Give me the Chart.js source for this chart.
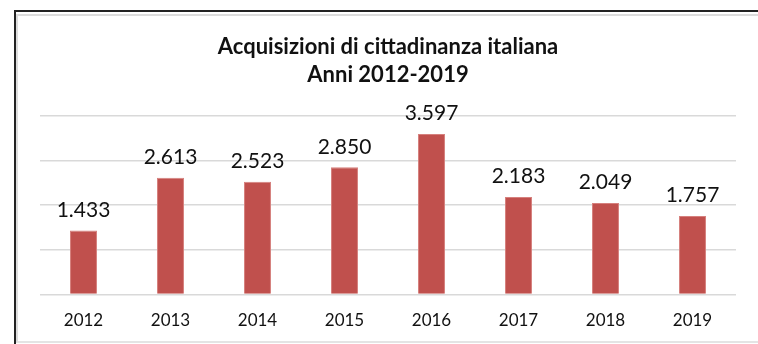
<!DOCTYPE html>
<html>
<head>
<meta charset="utf-8">
<script src="https://cdn.jsdelivr.net/npm/chart.js@4/dist/chart.umd.min.js"></script>
<style>
  html, body { margin: 0; padding: 0; background: #fff; }
  #wrap { position: relative; width: 758px; height: 344px; overflow: hidden; }
  #acq { position: absolute; left: 0; top: 0; }
  .frame { position: absolute; pointer-events: none; }
  #outer { left: 14px; top: 10px; right: -10px; bottom: -10px; border-left: 2px solid #222; border-top: 2px solid #222; }
  #inner { left: 16px; top: 14px; right: -10px; bottom: 1px; border-left: 2px solid #dcdcdc; border-top: 2px solid #dcdcdc; border-bottom: 2px solid #e4e4e4; }
</style>
</head>
<body>
<div id="wrap">
  <canvas id="acq" width="758" height="344"></canvas>
  <div class="frame" id="inner"></div>
  <div class="frame" id="outer"></div>
</div>
<script>
var anni = ['2012', '2013', '2014', '2015', '2016', '2017', '2018', '2019'];
var acquisizioni = [1433, 2613, 2523, 2850, 3597, 2183, 2049, 1757];
var titolo = ['Acquisizioni di cittadinanza italiana', 'Anni 2012-2019'];

// valori sopra le barre, con il punto delle migliaia
var etichette = {
  id: 'etichette',
  afterDatasetsDraw: function (chart) {
    var ctx = chart.ctx;
    var meta = chart.getDatasetMeta(0);
    ctx.save();
    ctx.font = '21px Lato';
    ctx.fillStyle = '#111';
    ctx.textAlign = 'center';
    ctx.textBaseline = 'bottom';
    meta.data.forEach(function (bar, i) {
      var v = chart.data.datasets[0].data[i];
      ctx.fillText(v.toLocaleString('it-IT'), bar.x, bar.y - 10);
    });
    ctx.restore();
  }
};

var ctx_acq = document.getElementById('acq');
var acq = new Chart(ctx_acq, {
  type: 'bar',
  data: {
    labels: anni,
    datasets: [
      {
        label: 'Acquisizioni',
        data: acquisizioni,
        backgroundColor: '#c0504d',
        borderColor: '#d6807d',
        borderWidth: 1,
        barPercentage: 0.31,
        categoryPercentage: 1.0,
      },
    ],
  },
  options: {
    responsive: false,
    animation: false,
    layout: {
      padding: { left: 40, right: 22, top: 0, bottom: 5 }
    },
    scales: {
      x: {
        grid: { display: false },
        border: { display: false },
        ticks: { color: '#111', font: { family: 'Lato', size: 17 }, padding: 8 }
      },
      y: {
        min: 0,
        max: 4000,
        ticks: { stepSize: 1000, display: false },
        grid: { color: '#d9d9d9', lineWidth: 1.5, drawTicks: false },
        border: { display: false }
      }
    },
    plugins: {
      legend: { display: false },
      tooltip: { enabled: false },
      title: {
        display: true,
        text: titolo,
        color: '#111',
        font: { family: 'Lato', size: 22, weight: 'bold', lineHeight: 1.27 },
        padding: { top: 33, bottom: 27 }
      }
    }
  },
  plugins: [etichette]
});
</script>
</body>
</html>
